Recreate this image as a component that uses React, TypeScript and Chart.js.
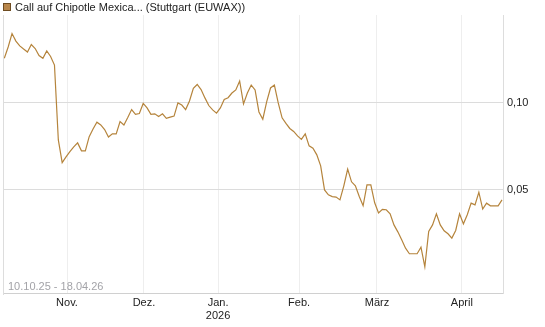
import React, { useEffect, useRef } from "react";
import { Chart, registerables } from "chart.js";

Chart.register(...registerables);

const seriesName = "Call auf Chipotle Mexica... (Stuttgart (EUWAX))";
const dateRange = "10.10.25 - 18.04.26";
const monthLabels = ["Nov.", "Dez.", ["Jan.", "2026"], "Feb.", "März", "April"];
const monthTickPos = [16.25, 36.2, 55.4, 76.4, 96.6, 118.6];
const yTicks = [0.05, 0.1];

const prices = [
  0.1257, 0.1322, 0.1399, 0.1356, 0.1328, 0.131, 0.1293, 0.1336, 0.1313, 0.1273,
  0.1257, 0.1299, 0.1267, 0.1218, 0.0787, 0.0656, 0.0689, 0.072, 0.0747, 0.077,
  0.0724, 0.0724, 0.0806, 0.085, 0.0889, 0.0873, 0.0847, 0.0804, 0.0822, 0.0822,
  0.0893, 0.0873, 0.0916, 0.0962, 0.0934, 0.0939, 0.0997, 0.0971, 0.0934, 0.0937,
  0.0922, 0.0937, 0.0911, 0.0918, 0.0924, 0.1, 0.0988, 0.0962, 0.1011, 0.1084,
  0.1106, 0.1077, 0.1029, 0.0985, 0.096, 0.0941, 0.0971, 0.102, 0.103, 0.1057,
  0.1075, 0.1126, 0.0994, 0.1057, 0.1103, 0.1075, 0.0948, 0.0906, 0.1006, 0.1086,
  0.1103, 0.1, 0.0914, 0.0882, 0.0853, 0.0836, 0.081, 0.079, 0.0822, 0.0753,
  0.0739, 0.0701, 0.0638, 0.0499, 0.0471, 0.0461, 0.0458, 0.0442, 0.0523, 0.0619,
  0.0546, 0.0523, 0.0461, 0.0408, 0.0528, 0.0528, 0.0425, 0.0367, 0.0387, 0.0385,
  0.0362, 0.0298, 0.0258, 0.0212, 0.0164, 0.0132, 0.0132, 0.0132, 0.017, 0.0057,
  0.026, 0.0298, 0.0362, 0.0298, 0.0264, 0.0247, 0.0222, 0.0266, 0.0362, 0.0304,
  0.0356, 0.0423, 0.0413, 0.0486, 0.0389, 0.0423, 0.0408, 0.0408, 0.0408, 0.0442,
];

const FONT = "'Liberation Sans', Arial, sans-serif";
const LINE_COLOR = "#b5843c";

const overlayPlugin = {
  id: "overlay",
  afterDraw(chart: any) {
    const { ctx, chartArea } = chart;
    ctx.save();
    // left border line
    ctx.strokeStyle = "#dddddd";
    ctx.lineWidth = 1;
    ctx.beginPath();
    ctx.moveTo(chartArea.left + 0.5, chartArea.top);
    ctx.lineTo(chartArea.left + 0.5, chartArea.bottom + 2);
    ctx.stroke();
    // legend
    ctx.fillStyle = "#b8864b";
    ctx.fillRect(3, 3, 8, 8);
    ctx.strokeStyle = "#6e4c22";
    ctx.strokeRect(3.5, 3.5, 7, 7);
    ctx.font = `11px ${FONT}`;
    ctx.fillStyle = "#222222";
    ctx.textBaseline = "middle";
    ctx.textAlign = "left";
    ctx.fillText(seriesName, 15, 7.5);
    // date range
    ctx.fillStyle = "#a3a3a8";
    ctx.fillText(dateRange, 8, 287);
    ctx.restore();
  },
};

export default function App() {
  const ref = useRef<HTMLCanvasElement | null>(null);
  useEffect(() => {
    if (!ref.current) return;
    const chart = new Chart(ref.current, {
      type: "line",
      data: {
        datasets: [
          {
            label: seriesName,
            data: prices.map((v, i) => ({ x: i, y: v })),
            borderColor: LINE_COLOR,
            borderWidth: 1.2,
            pointRadius: 0,
            tension: 0,
            fill: false,
          },
        ],
      },
      options: {
        animation: false,
        responsive: false,
        devicePixelRatio: 1,
        layout: { padding: { left: 3, top: 15, right: 0, bottom: 0 } },
        plugins: { legend: { display: false }, tooltip: { enabled: false } },
        scales: {
          x: {
            type: "linear",
            min: -0.34,
            max: 129.26,
            afterFit(scale: any) {
              scale.height = 34;
            },
            afterBuildTicks(scale: any) {
              scale.ticks = monthTickPos.map((v) => ({ value: v }));
            },
            ticks: {
              autoSkip: false,
              maxRotation: 0,
              padding: 3,
              color: "#222222",
              font: { family: FONT, size: 11 },
              callback: (_v: any, i: number) => monthLabels[i] as any,
            },
            grid: { color: "#eeeeee", drawTicks: false },
            border: { color: "#d0d0d0" },
          },
          y: {
            type: "linear",
            position: "right",
            min: -0.0094,
            max: 0.1506,
            afterFit(scale: any) {
              scale.width = 42;
            },
            afterBuildTicks(scale: any) {
              scale.ticks = yTicks.map((v) => ({ value: v }));
            },
            ticks: {
              padding: 4,
              color: "#222222",
              font: { family: FONT, size: 11 },
              callback: (v: any) => Number(v).toFixed(2).replace(".", ","),
            },
            grid: { color: "#dcdcdc", drawTicks: false },
            border: { color: "#dddddd" },
          },
        },
      },
      plugins: [overlayPlugin],
    });
    return () => chart.destroy();
  }, []);
  return (
    <div style={{ position: "absolute", left: 0, top: 0, width: 545, height: 327 }}>
      <canvas ref={ref} width={545} height={327} style={{ width: 545, height: 327 }} />
    </div>
  );
}
